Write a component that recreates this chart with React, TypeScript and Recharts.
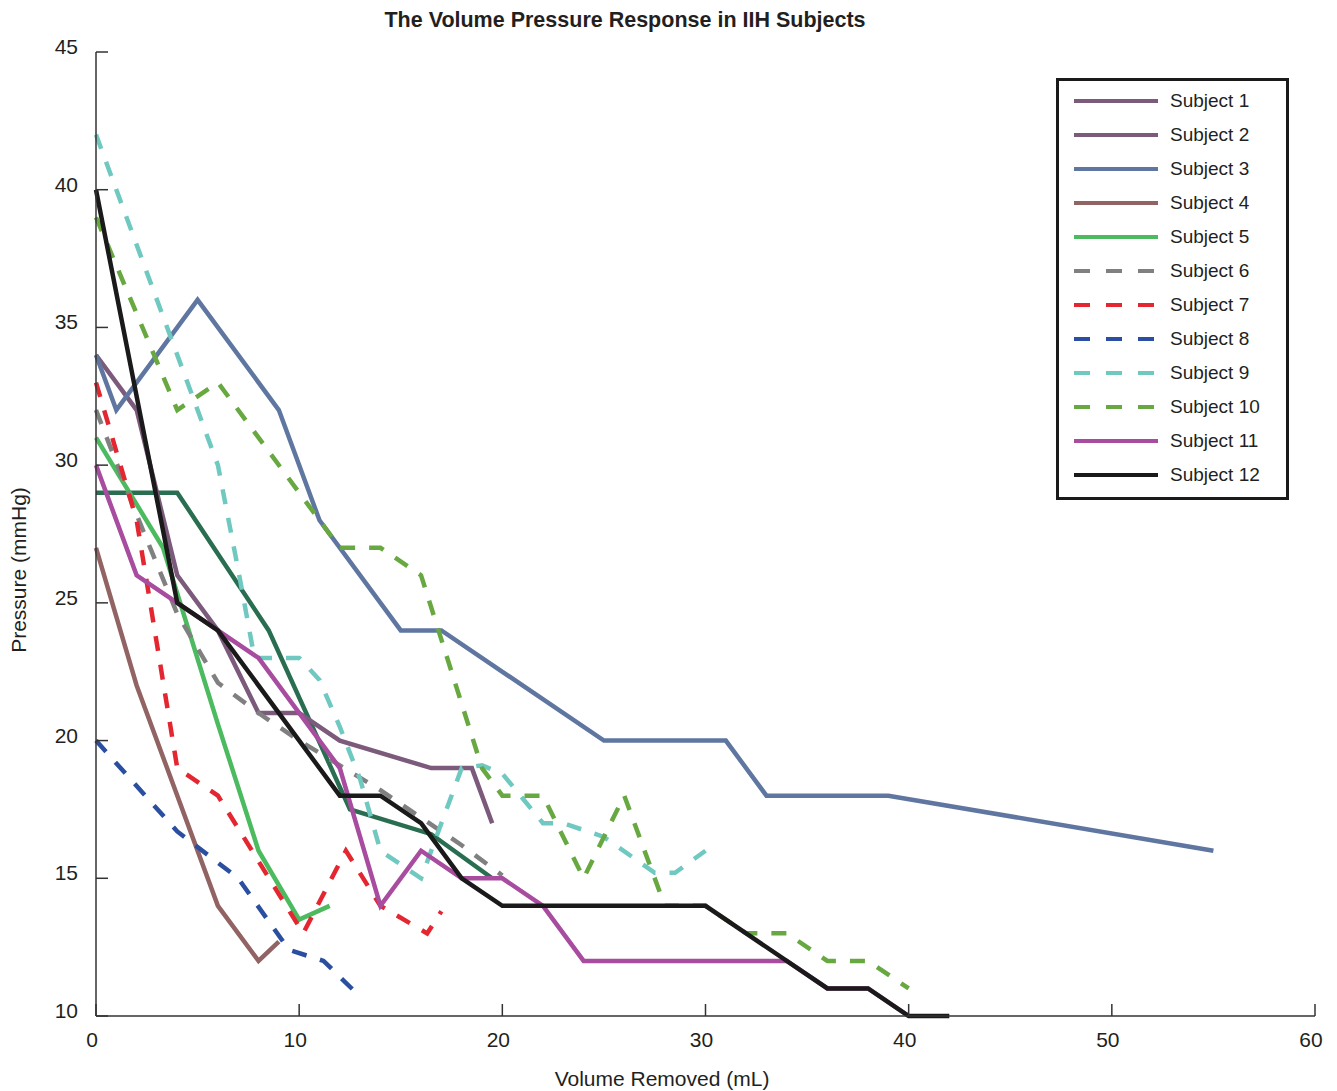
import { Line, LineChart, XAxis, YAxis } from 'recharts';

// volume removed (mL) and pressure (mmHg) per subject
const s1Vol = [0, 4, 8.5, 12.5, 16.5, 19.5];
const s1Pres = [29, 29, 24, 17.5, 16.6, 15];
const s2Vol = [0, 2, 4, 6, 8, 10, 12, 16.5, 18.5, 19.5];
const s2Pres = [34, 32, 26, 24, 21, 21, 20, 19, 19, 17];
const s3Vol = [0, 1, 5, 9, 11, 15, 17, 25, 31, 33, 39, 55];
const s3Pres = [34, 32, 36, 32, 28, 24, 24, 20, 20, 18, 18, 16];
const s4Vol = [0, 2, 6, 8, 9];
const s4Pres = [27, 22, 14, 12, 12.7];
const s5Vol = [0, 3.3, 6, 8, 10, 11.5];
const s5Pres = [31, 27, 20.6, 16, 13.5, 14];
const s6Vol = [0, 2, 4, 6, 8, 10, 12, 14, 16, 18, 20];
const s6Pres = [32, 28.2, 24.6, 22.1, 21, 20, 19.1, 18.2, 17.2, 16.2, 15.1];
const s7Vol = [0, 2, 4, 6, 10.2, 12.3, 14, 16.3, 17];
const s7Pres = [33, 28, 19, 18, 13, 16, 14, 13, 13.8];
const s8Vol = [0, 4, 7, 9.5, 11.2, 13];
const s8Pres = [20, 16.7, 15, 12.4, 12, 10.7];
const s9Vol = [0, 5, 6, 7, 7.8, 10, 11, 12, 13, 14, 16, 18, 19, 20, 22, 23, 25, 27.5, 28.5, 30];
const s9Pres = [42, 32, 30, 26.2, 23, 23, 22.2, 20.5, 18.6, 16, 15, 19, 19.1, 18.8, 17, 17, 16.5, 15.2, 15.2, 16];
const s10Vol = [0, 4, 6, 12, 14, 16, 19, 20, 22, 24, 26, 28, 30, 32, 34, 36, 38, 40];
const s10Pres = [39, 32, 33, 27, 27, 26, 19, 18, 18, 15, 18, 14, 14, 13, 13, 12, 12, 11];
const s11Vol = [0, 2, 4, 8, 12, 14, 16, 18, 20, 22, 24, 34, 36, 38, 40];
const s11Pres = [30, 26, 25, 23, 19, 14, 16, 15, 15, 14, 12, 12, 11, 11, 10];
const s12Vol = [0, 4, 6, 12, 14, 16, 18, 20, 30, 36, 38, 40, 42];
const s12Pres = [40, 25, 24, 18, 18, 17, 15, 14, 14, 11, 11, 10, 10];

const xTicks = [0, 10, 20, 30, 40, 50, 60];
const yTicks = [10, 15, 20, 25, 30, 35, 40, 45];

const FONT = '"Liberation Sans", Arial, Helvetica, sans-serif';
const TEXT = '#231f20';
const DASH = '15 14';

const toPoints = (vol: number[], pres: number[]) => vol.map((x, i) => ({ x, y: pres[i] }));

const subjects = [
  { name: 'Subject 1', data: toPoints(s1Vol, s1Pres), color: '#2a6e52', legendColor: '#7b5a7b', dashed: false },
  { name: 'Subject 2', data: toPoints(s2Vol, s2Pres), color: '#7b5a7b', legendColor: '#7b5a7b', dashed: false },
  { name: 'Subject 3', data: toPoints(s3Vol, s3Pres), color: '#5f77a0', legendColor: '#5f77a0', dashed: false },
  { name: 'Subject 4', data: toPoints(s4Vol, s4Pres), color: '#926363', legendColor: '#926363', dashed: false },
  { name: 'Subject 5', data: toPoints(s5Vol, s5Pres), color: '#4cba5f', legendColor: '#4cba5f', dashed: false },
  { name: 'Subject 6', data: toPoints(s6Vol, s6Pres), color: '#808080', legendColor: '#808080', dashed: true },
  { name: 'Subject 7', data: toPoints(s7Vol, s7Pres), color: '#e42630', legendColor: '#e42630', dashed: true },
  { name: 'Subject 8', data: toPoints(s8Vol, s8Pres), color: '#2a4fa0', legendColor: '#2a4fa0', dashed: true },
  { name: 'Subject 9', data: toPoints(s9Vol, s9Pres), color: '#6fc9c0', legendColor: '#6fc9c0', dashed: true },
  { name: 'Subject 10', data: toPoints(s10Vol, s10Pres), color: '#68a840', legendColor: '#68a840', dashed: true },
  { name: 'Subject 11', data: toPoints(s11Vol, s11Pres), color: '#a84c9f', legendColor: '#a84c9f', dashed: false },
  { name: 'Subject 12', data: toPoints(s12Vol, s12Pres), color: '#1a1a1a', legendColor: '#1a1a1a', dashed: false },
];

const XTick = ({ x, y, payload }: any) => (
  <g>
    <line x1={x} x2={x} y1={y} y2={y - 12} stroke="#333" strokeWidth={1.5} />
    <text x={x - 4} y={y + 31} textAnchor="middle" fontSize={21} fontFamily={FONT} fill={TEXT}>
      {payload.value}
    </text>
  </g>
);

const YTick = ({ x, y, payload }: any) => (
  <g>
    <line x1={x} x2={x + 12} y1={y} y2={y} stroke="#333" strokeWidth={1.5} />
    <text x={x - 18} y={y + 2} textAnchor="end" fontSize={21} fontFamily={FONT} fill={TEXT}>
      {payload.value}
    </text>
  </g>
);

const SubjectLegend = () => (
  <div
    style={{
      position: 'absolute',
      left: 1056,
      top: 78,
      width: 233,
      height: 422,
      boxSizing: 'border-box',
      border: '3px solid #1a1a1a',
      background: '#fff',
    }}
  >
    <svg width={227} height={416}>
      {subjects.map((s, i) => {
        const cy = 20 + i * 34;
        return (
          <g key={s.name}>
            <line
              x1={15}
              x2={99}
              y1={cy}
              y2={cy}
              stroke={s.legendColor}
              strokeWidth={4}
              strokeDasharray={s.dashed ? '16 16' : undefined}
            />
            <text x={111} y={cy + 6} fontSize={19} fontFamily={FONT} fill={TEXT}>
              {s.name}
            </text>
          </g>
        );
      })}
    </svg>
  </div>
);

export default function App() {
  return (
    <div style={{ position: 'absolute', left: 0, top: 0, width: 1337, height: 1091, background: '#fff' }}>
      <LineChart width={1337} height={1091} margin={{ top: 52, right: 22, bottom: 35, left: 36 }}>
        <XAxis
          type="number"
          dataKey="x"
          domain={[0, 60]}
          ticks={xTicks}
          height={40}
          tickSize={0}
          tickMargin={0}
          tickLine={false}
          tick={XTick}
          stroke="#333"
          strokeWidth={1.5}
        />
        <YAxis
          type="number"
          dataKey="y"
          domain={[10, 45]}
          ticks={yTicks}
          width={60}
          tickSize={0}
          tickMargin={0}
          tickLine={false}
          tick={YTick}
          stroke="#333"
          strokeWidth={1.5}
        />
        {subjects.map((s) => (
          <Line
            key={s.name}
            data={s.data}
            dataKey="y"
            type="linear"
            stroke={s.color}
            strokeWidth={4.5}
            strokeDasharray={s.dashed ? DASH : undefined}
            strokeLinejoin="miter"
            dot={false}
            activeDot={false}
            isAnimationActive={false}
          />
        ))}
      </LineChart>
      <svg width={1337} height={1091} style={{ position: 'absolute', left: 0, top: 0, pointerEvents: 'none' }}>
        <text x={625} y={27} textAnchor="middle" fontSize={21.5} fontWeight="bold" fontFamily={FONT} fill={TEXT}>
          The Volume Pressure Response in IIH Subjects
        </text>
        <text x={662} y={1086} textAnchor="middle" fontSize={21} fontFamily={FONT} fill={TEXT}>
          Volume Removed (mL)
        </text>
        <text
          x={0}
          y={0}
          transform="translate(26, 570) rotate(-90)"
          textAnchor="middle"
          fontSize={21}
          fontFamily={FONT}
          fill={TEXT}
        >
          Pressure (mmHg)
        </text>
      </svg>
      <SubjectLegend />
    </div>
  );
}
